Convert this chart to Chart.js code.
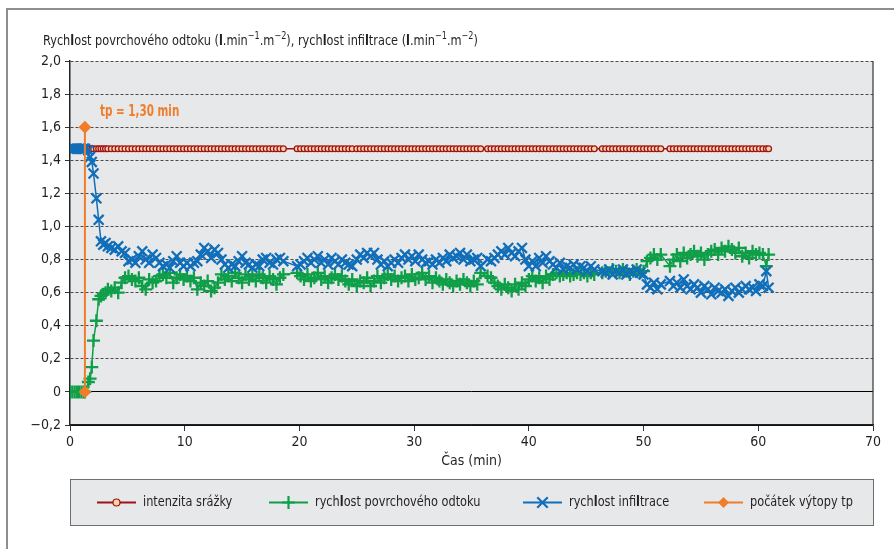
<!DOCTYPE html>
<html>
<head>
<meta charset="utf-8">
<script src="https://cdn.jsdelivr.net/npm/chart.js@4/dist/chart.umd.min.js"></script>
<style>
    html, body { margin: 0; padding: 0; background: #fff; }
    #wrap { width: 894px; height: 549px; position: relative; }
</style>
</head>
<body>
<div id="wrap"><canvas id="chart"></canvas></div>
<script>
// time of each measurement (min)
const time = [
    0, 0.2, 0.4, 0.6, 0.8, 1.0, 1.2, 1.3, 1.6, 1.75,
    1.9, 2.05, 2.3, 2.5, 2.7, 2.9, 3.1, 3.3, 3.6, 3.9,
    4.2, 4.5, 4.8, 5.1, 5.4, 5.7, 6.0, 6.3, 6.6, 6.9,
    7.2, 7.5, 7.8, 8.1, 8.4, 8.7, 9.0, 9.3, 9.6, 9.9,
    10.2, 10.5, 10.8, 11.1, 11.4, 11.7, 12.0, 12.3, 12.6, 12.9,
    13.2, 13.5, 13.8, 14.1, 14.4, 14.7, 15.0, 15.3, 15.6, 15.9,
    16.2, 16.5, 16.8, 17.1, 17.4, 17.7, 18.0, 18.3, 18.6, 19.8,
    20.1, 20.4, 20.7, 21.0, 21.3, 21.6, 21.9, 22.2, 22.5, 22.8,
    23.1, 23.4, 23.7, 24.0, 24.3, 24.6, 25.0, 25.3, 25.6, 25.9,
    26.2, 26.5, 26.8, 27.1, 27.4, 27.7, 28.0, 28.3, 28.6, 28.9,
    29.2, 29.5, 29.8, 30.1, 30.4, 30.7, 31.0, 31.3, 31.6, 31.9,
    32.2, 32.5, 32.8, 33.1, 33.4, 33.7, 34.0, 34.3, 34.6, 34.9,
    35.2, 35.5, 35.8, 36.4, 36.7, 37.0, 37.3, 37.6, 37.9, 38.2,
    38.5, 38.8, 39.1, 39.4, 39.7, 40.0, 40.3, 40.6, 40.9, 41.2,
    41.5, 41.8, 42.1, 42.4, 42.7, 43.0, 43.3, 43.6, 43.9, 44.2,
    44.5, 44.8, 45.1, 45.4, 45.7, 46.4, 46.7, 47.0, 47.3, 47.6,
    47.9, 48.2, 48.5, 48.8, 49.1, 49.4, 49.7, 50.0, 50.3, 50.6,
    50.9, 51.2, 51.5, 52.3, 52.6, 52.9, 53.2, 53.5, 53.8, 54.1,
    54.4, 54.7, 55.0, 55.3, 55.6, 55.9, 56.2, 56.5, 56.8, 57.1,
    57.4, 57.7, 58.0, 58.3, 58.6, 58.9, 59.2, 59.5, 59.8, 60.1,
    60.4, 60.7, 60.9
];

// rain intensity was held constant during the whole run
const rainIntensity = 1.47;

const runoff = [
    0, 0, 0, 0, 0, 0, 0, 0, 0.06, 0.08,
    0.15, 0.31, 0.43, 0.56, 0.58, 0.59, 0.60, 0.62, 0.61, 0.63,
    0.60, 0.66, 0.69, 0.70, 0.68, 0.67, 0.69, 0.64, 0.62, 0.68,
    0.66, 0.67, 0.70, 0.71, 0.69, 0.72, 0.66, 0.69, 0.71, 0.68,
    0.70, 0.67, 0.69, 0.62, 0.66, 0.64, 0.67, 0.61, 0.63, 0.66,
    0.71, 0.68, 0.70, 0.67, 0.72, 0.69, 0.66, 0.71, 0.68, 0.70,
    0.67, 0.71, 0.69, 0.66, 0.70, 0.68, 0.65, 0.69, 0.71, 0.72,
    0.70, 0.68, 0.71, 0.67, 0.69, 0.72, 0.68, 0.70, 0.66, 0.69,
    0.71, 0.68, 0.70, 0.67, 0.65, 0.68, 0.64, 0.67, 0.66, 0.69,
    0.64, 0.67, 0.70, 0.66, 0.69, 0.71, 0.68, 0.70, 0.67, 0.69,
    0.70, 0.67, 0.71, 0.68, 0.69, 0.72, 0.68, 0.70, 0.66, 0.69,
    0.67, 0.65, 0.68, 0.66, 0.64, 0.67, 0.65, 0.68, 0.66, 0.64,
    0.67, 0.65, 0.72, 0.70, 0.69, 0.66, 0.64, 0.62, 0.65, 0.63,
    0.61, 0.65, 0.62, 0.66, 0.64, 0.68, 0.70, 0.67, 0.69, 0.66,
    0.70, 0.68, 0.71, 0.72, 0.70, 0.71, 0.72, 0.70, 0.71, 0.72,
    0.71, 0.72, 0.70, 0.72, 0.71, 0.72, 0.73, 0.72, 0.74, 0.73,
    0.72, 0.74, 0.73, 0.71, 0.73, 0.74, 0.72, 0.73, 0.79, 0.81,
    0.83, 0.80, 0.83, 0.76, 0.80, 0.83, 0.79, 0.84, 0.81, 0.83,
    0.85, 0.82, 0.84, 0.80, 0.83, 0.85, 0.86, 0.83, 0.87, 0.85,
    0.88, 0.86, 0.84, 0.87, 0.82, 0.84, 0.81, 0.85, 0.83, 0.84,
    0.83, 0.76, 0.83
];

const infiltration = [
    1.47, 1.47, 1.47, 1.47, 1.47, 1.47, 1.47, 1.47, 1.46, 1.42,
    1.39, 1.32, 1.17, 1.04, 0.91, 0.89, 0.90, 0.88, 0.87, 0.86,
    0.88, 0.85, 0.84, 0.79, 0.80, 0.78, 0.82, 0.85, 0.80, 0.78,
    0.83, 0.81, 0.78, 0.76, 0.77, 0.75, 0.79, 0.82, 0.78, 0.76,
    0.78, 0.76, 0.78, 0.79, 0.83, 0.87, 0.85, 0.81, 0.86, 0.84,
    0.80, 0.77, 0.75, 0.77, 0.76, 0.79, 0.82, 0.78, 0.77, 0.75,
    0.77, 0.76, 0.80, 0.81, 0.78, 0.77, 0.80, 0.81, 0.79, 0.76,
    0.77, 0.79, 0.81, 0.78, 0.80, 0.82, 0.78, 0.80, 0.77, 0.81,
    0.79, 0.77, 0.80, 0.78, 0.77, 0.76, 0.80, 0.83, 0.81, 0.84,
    0.82, 0.84, 0.80, 0.77, 0.79, 0.76, 0.78, 0.80, 0.78, 0.81,
    0.83, 0.80, 0.82, 0.79, 0.83, 0.80, 0.78, 0.79, 0.77, 0.80,
    0.78, 0.81, 0.79, 0.83, 0.81, 0.82, 0.84, 0.80, 0.83, 0.79,
    0.80, 0.81, 0.76, 0.80, 0.79, 0.81, 0.83, 0.85, 0.83, 0.87,
    0.84, 0.82, 0.85, 0.87, 0.80, 0.76, 0.79, 0.76, 0.81, 0.78,
    0.82, 0.79, 0.77, 0.75, 0.78, 0.74, 0.76, 0.75, 0.77, 0.74,
    0.76, 0.75, 0.73, 0.76, 0.74, 0.73, 0.72, 0.74, 0.71, 0.73,
    0.72, 0.74, 0.71, 0.73, 0.72, 0.74, 0.72, 0.71, 0.65, 0.63,
    0.66, 0.62, 0.65, 0.67, 0.64, 0.66, 0.63, 0.68, 0.64, 0.62,
    0.65, 0.63, 0.60, 0.64, 0.62, 0.59, 0.63, 0.61, 0.60, 0.62,
    0.58, 0.61, 0.63, 0.60, 0.62, 0.64, 0.62, 0.63, 0.61, 0.65,
    0.64, 0.73, 0.63
];

// ponding start marker (vertical line at tp)
const tpTime = [1.3, 1.3];
const tpValue = [0, 1.6];
const tpLabel = 'tp = 1,30 min';

const seriesNames = ['intenzita srážky', 'rychlost povrchového odtoku', 'rychlost infiltrace', 'počátek výtopy tp'];
const yTitle = 'Rychlost povrchového odtoku (l.min^−1.m^−2), rychlost infiltrace (l.min^−1.m^−2)';
const xTitle = 'Čas (min)';

const FONT = "'Liberation Sans Narrow', 'DejaVu Sans Condensed', 'Arial Narrow', sans-serif";
const TEXT = '#231f20';
const RED = '#9e1218', RED_FILL = '#fcd5a4';
const GREEN = '#0f9f48';
const BLUE = '#116fba';
const ORANGE = '#f07d2a';
const PLOT_BG = '#e7e8ea';

function pairs(xs, ys) {
    return xs.map((x, i) => ({ x: x, y: ys[i] }));
}

// draws text where every "l" is bold and ^-tokens are superscript,
// squeezed horizontally to look like the condensed original face
function drawRich(ctx, text, x, y, size, color, squeeze) {
    ctx.save();
    ctx.translate(x, y);
    ctx.scale(squeeze, 1);
    ctx.fillStyle = color;
    ctx.textBaseline = 'middle';
    ctx.textAlign = 'left';
    let cx = 0;
    let i = 0;
    while (i < text.length) {
        let ch = text[i];
        let seg = '', style = 'n';
        if (ch === '^') {
            i++;
            while (i < text.length && /[−0-9]/.test(text[i])) seg += text[i++];
            style = 's';
        } else if (ch === 'l') {
            seg = 'l'; style = 'b'; i++;
        } else {
            while (i < text.length && text[i] !== '^' && text[i] !== 'l') seg += text[i++];
        }
        let dy = 0;
        if (style === 'b') ctx.font = 'bold ' + size + 'px ' + FONT;
        else if (style === 's') { ctx.font = Math.round(size * 0.7) + 'px ' + FONT; dy = -size * 0.35; }
        else ctx.font = size + 'px ' + FONT;
        ctx.fillText(seg, cx, dy);
        cx += ctx.measureText(seg).width;
    }
    ctx.restore();
}

function drawMarker(ctx, style, x, y, r, color, fill) {
    ctx.save();
    ctx.strokeStyle = color;
    ctx.lineWidth = 2.2;
    ctx.beginPath();
    if (style === 'circle') {
        ctx.lineWidth = 1.2;
        ctx.fillStyle = fill;
        ctx.arc(x, y, r, 0, Math.PI * 2);
        ctx.fill();
        ctx.stroke();
    } else if (style === 'cross') {
        ctx.moveTo(x - r, y); ctx.lineTo(x + r, y);
        ctx.moveTo(x, y - r); ctx.lineTo(x, y + r);
        ctx.stroke();
    } else if (style === 'crossRot') {
        const d = r * 0.75;
        ctx.moveTo(x - d, y - d); ctx.lineTo(x + d, y + d);
        ctx.moveTo(x + d, y - d); ctx.lineTo(x - d, y + d);
        ctx.stroke();
    } else {
        ctx.fillStyle = color;
        ctx.moveTo(x, y - r); ctx.lineTo(x + r, y); ctx.lineTo(x, y + r); ctx.lineTo(x - r, y);
        ctx.closePath();
        ctx.fill();
    }
    ctx.restore();
}

const decorPlugin = {
    id: 'decor',
    beforeDraw(chart) {
        const { ctx, chartArea: a } = chart;
        ctx.save();
        // outer frame
        ctx.strokeStyle = '#8e8e8e';
        ctx.lineWidth = 2;
        ctx.beginPath();
        ctx.moveTo(7, 549); ctx.lineTo(7, 9); ctx.lineTo(894, 9);
        ctx.stroke();
        // plot background
        ctx.fillStyle = PLOT_BG;
        ctx.fillRect(a.left, a.top, a.right - a.left, a.bottom - a.top);
        ctx.restore();
    },
    beforeDatasetsDraw(chart) {
        const { ctx, chartArea: a } = chart;
        ctx.save();
        ctx.strokeStyle = '#333';
        ctx.lineWidth = 1.2;
        ctx.beginPath();
        ctx.moveTo(a.right, a.top); ctx.lineTo(a.right, a.bottom);
        ctx.stroke();
        ctx.restore();
    },
    afterDraw(chart) {
        const ctx = chart.ctx;
        const xs = chart.scales.x, ys = chart.scales.y;
        drawRich(ctx, yTitle, 43, 41, 14, TEXT, 0.9);

        ctx.save();
        ctx.font = 'bold 15px ' + FONT;
        ctx.fillStyle = ORANGE;
        ctx.textBaseline = 'middle';
        ctx.translate(xs.getPixelForValue(tpTime[1]) + 15, ys.getPixelForValue(tpValue[1]) - 15);
        ctx.scale(0.77, 1);
        ctx.fillText(tpLabel, 0, 0);
        ctx.restore();

        // legend box
        ctx.save();
        ctx.fillStyle = PLOT_BG;
        ctx.fillRect(70.5, 479.5, 803, 46);
        ctx.strokeStyle = '#6f6f6f';
        ctx.lineWidth = 1;
        ctx.strokeRect(70.5, 479.5, 803, 46);

        const legendX = [97, 269, 523, 704];
        const legendColor = [RED, GREEN, BLUE, ORANGE];
        const legendStyle = ['circle', 'cross', 'crossRot', 'diamond'];
        const legendR = [3.5, 6.5, 7, 5.5];
        const ly = 502.5;
        seriesNames.forEach((name, i) => {
            const x0 = legendX[i];
            ctx.strokeStyle = legendColor[i];
            ctx.lineWidth = 2;
            ctx.beginPath();
            ctx.moveTo(x0, ly); ctx.lineTo(x0 + 39, ly);
            ctx.stroke();
            drawMarker(ctx, legendStyle[i], x0 + 19.5, ly, legendR[i], legendColor[i], RED_FILL);
            drawRich(ctx, name, x0 + 46, ly, 14, TEXT, 0.9);
        });
        ctx.restore();
    }
};

function isZero(v) { return Math.abs(v) < 1e-9; }

Chart.defaults.font.family = FONT;
Chart.defaults.font.size = 14;
Chart.defaults.color = TEXT;

new Chart(document.getElementById('chart'), {
    type: 'line',
    data: {
        datasets: [
            {
                label: seriesNames[0],
                data: time.map(t => ({ x: t, y: rainIntensity })),
                borderColor: RED,
                borderWidth: 1.5,
                pointStyle: 'circle',
                pointRadius: 2.9,
                pointBorderWidth: 1.3,
                pointBackgroundColor: RED_FILL,
                pointBorderColor: RED,
                order: 3
            },
            {
                label: seriesNames[1],
                data: pairs(time, runoff),
                borderColor: GREEN,
                borderWidth: 1.5,
                pointStyle: 'cross',
                pointRadius: 6.5,
                pointBorderWidth: 2.3,
                pointBorderColor: GREEN,
                order: 2
            },
            {
                label: seriesNames[2],
                data: pairs(time, infiltration),
                borderColor: BLUE,
                borderWidth: 1.5,
                pointStyle: 'crossRot',
                pointRadius: 7,
                pointBorderWidth: 2.3,
                pointBorderColor: BLUE,
                order: 1
            },
            {
                label: seriesNames[3],
                data: pairs(tpTime, tpValue),
                borderColor: ORANGE,
                borderWidth: 2,
                pointStyle: 'rectRot',
                pointRadius: 5,
                pointBackgroundColor: ORANGE,
                pointBorderColor: ORANGE,
                order: 0
            }
        ]
    },
    options: {
        responsive: true,
        maintainAspectRatio: false,
        animation: false,
        layout: { padding: { top: 61, right: 21, bottom: 75, left: 0 } },
        plugins: {
            legend: { display: false },
            tooltip: { enabled: false }
        },
        elements: { line: { tension: 0 } },
        scales: {
            x: {
                type: 'linear',
                min: 0,
                max: 70,
                ticks: { stepSize: 10, padding: 3, color: TEXT },
                grid: { drawOnChartArea: false, drawTicks: true, tickLength: 6, tickColor: '#333', color: '#333' },
                border: { color: '#222', width: 1.5 },
                title: { display: true, text: xTitle, color: TEXT, padding: { top: 0, bottom: 4 } },
                afterFit(scale) { scale.height = 49; }
            },
            y: {
                min: -0.2,
                max: 2.0,
                ticks: {
                    stepSize: 0.2,
                    padding: 4,
                    color: TEXT,
                    callback: v => isZero(v) ? '0' : v.toFixed(1).replace('.', ',').replace('-', '−')
                },
                grid: {
                    color: ctx => (ctx.tick && (isZero(ctx.tick.value) || ctx.tick.value < -0.1)) ? '#000' : '#4a4a4a',
                    lineWidth: 1,
                    drawTicks: true,
                    tickLength: 5,
                    tickColor: '#333'
                },
                border: {
                    color: '#222',
                    width: 1.5,
                    dash: ctx => (ctx.tick && (isZero(ctx.tick.value) || ctx.tick.value < -0.1)) ? [] : [3, 2]
                },
                afterFit(scale) { scale.width = 70; }
            }
        }
    },
    plugins: [decorPlugin]
});
</script>
</body>
</html>
